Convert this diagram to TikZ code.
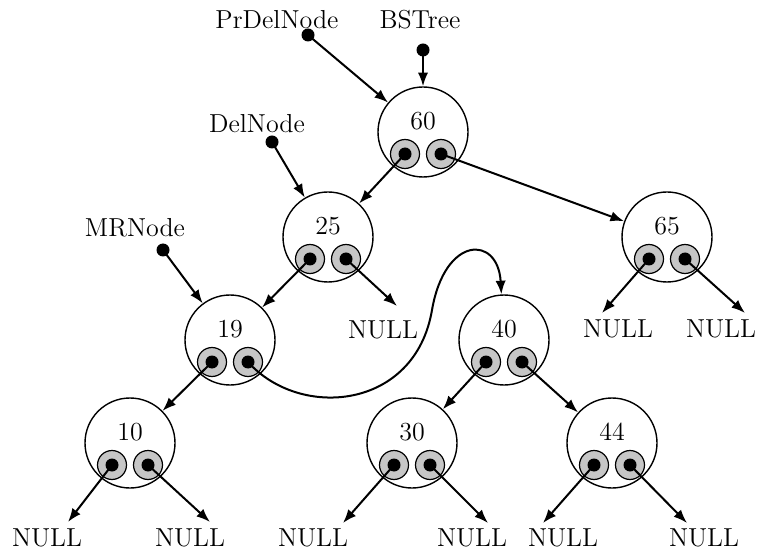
\documentclass[tikz,border=0pt]{standalone}
\usepackage{tikz}
\usetikzlibrary{arrows.meta,positioning,calc}

\tikzset{
  treenode/.style={circle,draw,line width=0.7pt,minimum size=45pt,inner sep=0pt},
  ptrout/.style={circle,draw,fill=gray!45,line width=0.6pt,minimum size=14.5pt,inner sep=0pt},
  ptrin/.style={circle,fill=black,minimum size=6.5pt,inner sep=0pt},
  vardot/.style={circle,fill=black,minimum size=6.5pt,inner sep=0pt},
  lbl/.style={font=\fontsize{13}{15}\selectfont,inner sep=1pt},
  arr/.style={-{Latex[length=2.4mm,width=1.8mm]},line width=1pt},
}

\begin{document}
\begin{tikzpicture}[x=0.5pt,y=-0.5pt]
\useasboundingbox (0,0) rectangle (759,550);

% tree nodes with their two pointer fields
\foreach \n/\x/\y in {60/423/132,25/328/237,65/667/237,19/230/340,40/504/340,10/130/443,30/412/443,44/612/443}{
  \node[treenode] (n\n) at (\x,\y) {};
  \node[lbl] (t\n) at (\x,\y-11) {\n};
  \node[ptrout] (l\n) at (\x-18,\y+22) {};
  \node[ptrin] (dl\n) at (l\n) {};
  \node[ptrout] (r\n) at (\x+18,\y+22) {};
  \node[ptrin] (dr\n) at (r\n) {};
}

% pointer variables
\node[lbl] (prdel) at (277,20) {PrDelNode};
\node[vardot] (dprdel) at (308,35) {};
\node[lbl] (bstree) at (420,20) {BSTree};
\node[vardot] (dbstree) at (423,50) {};
\node[lbl] (del) at (257,124) {DelNode};
\node[vardot] (ddel) at (272,142) {};
\node[lbl] (mr) at (135,228) {MRNode};
\node[vardot] (dmr) at (163,250) {};

% NULL ends
\node[lbl] (null25) at (383,330) {NULL};
\node[lbl] (null65a) at (618,329) {NULL};
\node[lbl] (null65b) at (721,329) {NULL};
\node[lbl] (null10a) at (47,538) {NULL};
\node[lbl] (null10b) at (190,538) {NULL};
\node[lbl] (null30a) at (313,538) {NULL};
\node[lbl] (null30b) at (472,538) {NULL};
\node[lbl] (null44a) at (563,538) {NULL};
\node[lbl] (null44b) at (704,538) {NULL};
\coordinate (e25) at (397,306);
\coordinate (e65a) at (602,313);
\coordinate (e65b) at (745,313);
\coordinate (e10a) at (68,522);
\coordinate (e10b) at (210,522);
\coordinate (e30a) at (343,523);
\coordinate (e30b) at (488,523);
\coordinate (e44a) at (543,523);
\coordinate (e44b) at (687,523);

\draw[arr] (dprdel.center) -- (n60);
\draw[arr] (dbstree.center) -- (n60);
\draw[arr] (ddel.center) -- (n25);
\draw[arr] (dmr.center) -- (n19);

\draw[arr] (dl60.center) -- (n25);
\draw[arr] (dr60.center) -- (n65);
\draw[arr] (dl25.center) -- (n19);
\draw[arr] (dr25.center) -- (e25);
\draw[arr] (dl65.center) -- (e65a);
\draw[arr] (dr65.center) -- (e65b);
\draw[arr] (dl19.center) -- (n10);
\draw[arr] (dr19.center) .. controls (300,420) and (415,410) .. (432,310)
  .. controls (445,235) and (498,235) .. (n40);
\draw[arr] (dl40.center) -- (n30);
\draw[arr] (dr40.center) -- (n44);
\draw[arr] (dl10.center) -- (e10a);
\draw[arr] (dr10.center) -- (e10b);
\draw[arr] (dl30.center) -- (e30a);
\draw[arr] (dr30.center) -- (e30b);
\draw[arr] (dl44.center) -- (e44a);
\draw[arr] (dr44.center) -- (e44b);
\end{tikzpicture}
\end{document}
